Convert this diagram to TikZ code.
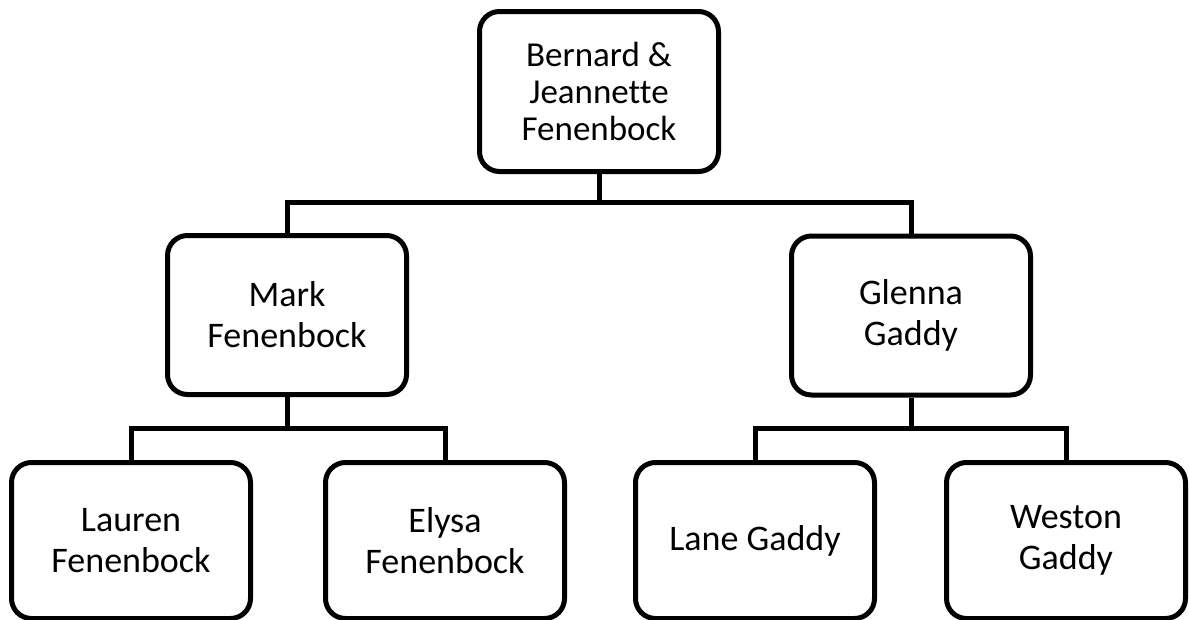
\documentclass[tikz,border=0pt]{standalone}
\usepackage{fontspec}
\setmainfont[Ligatures=NoCommon]{Carlito}
\begin{document}
\begin{tikzpicture}[x=1pt,y=-1pt,
  person/.style={draw=black,line width=5pt,rounded corners=20pt,fill=white,
    minimum width=239pt,minimum height=159pt,inner sep=0pt,align=center,
    font=\fontsize{36}{41}\selectfont},
  toptext/.style={font=\fontsize{35}{37}\selectfont},
  kid/.style={minimum height=156pt},
  link/.style={draw=black,line width=5pt}]
\useasboundingbox (0,0) rectangle (1189,619);
\node[person,toptext,minimum height=160pt] (top) at (599,91.5) {Bernard \&\\Jeannette\\Fenenbock};
\node[person] (mark) at (287,315) {Mark\\Fenenbock};
\node[person] (glenna) at (911,315.5) {Glenna\\Gaddy};
\node[person,kid] (lauren) at (131,540.5) {Lauren\\Fenenbock};
\node[person,kid] (elysa) at (445,540.5) {Elysa\\Fenenbock};
\node[person,kid] (lane) at (755,540.5) {Lane Gaddy};
\node[person,kid] (weston) at (1066,540.5) {Weston\\Gaddy};
\coordinate (bus0) at (599,202);
\coordinate (bus1) at (287,428);
\coordinate (bus2) at (911,428);
\draw[link] (top.south) -- (bus0);
\draw[link] (mark.north) |- (bus0) -| (glenna.north);
\draw[link] (mark.south) -- (bus1);
\draw[link] (lauren.north) |- (bus1) -| (elysa.north);
\draw[link] (glenna.south) -- (bus2);
\draw[link] (lane.north) |- (bus2) -| (weston.north);
\end{tikzpicture}
\end{document}
